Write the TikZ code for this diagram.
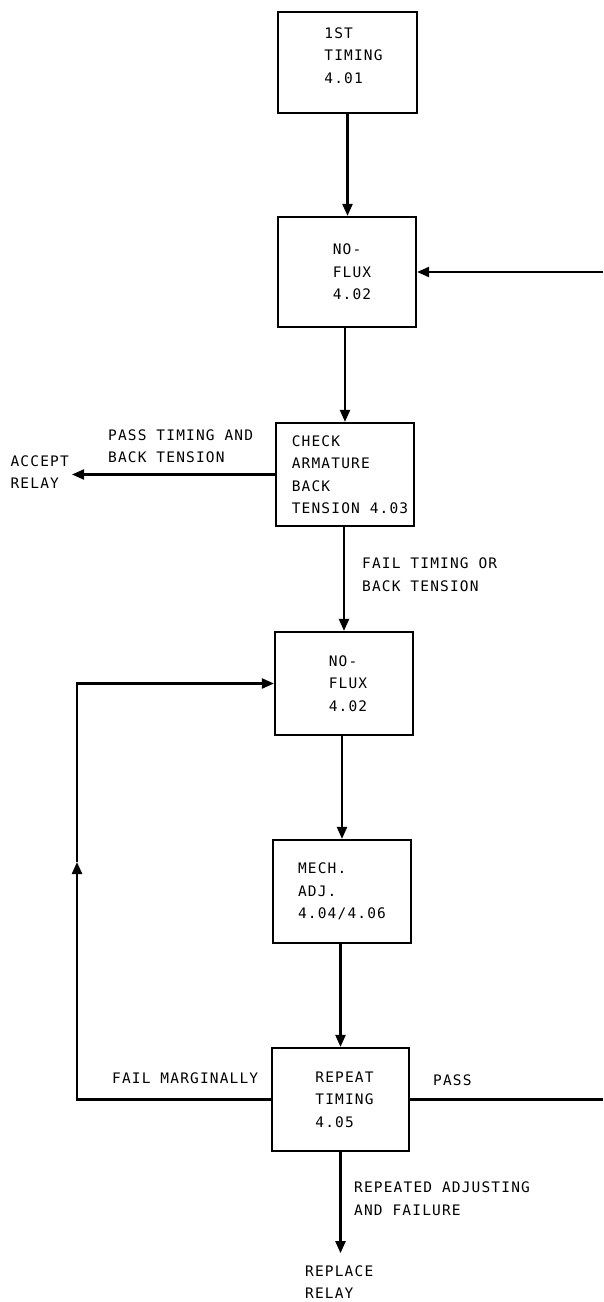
\documentclass[tikz,border=0pt]{standalone}
\usepackage{fontspec}
\newfontfamily\plotfont[LetterSpace=8]{DejaVu Sans Mono}
\usetikzlibrary{arrows.meta}
\newcommand\indt[1]{\hspace*{#1pt}}
\begin{document}
\begin{tikzpicture}[x=1pt,y=-1pt,
  box/.style={draw, line width=2.2pt, rectangle, align=left, inner sep=0pt},
  txt/.style={align=left, inner sep=0pt},
  arr/.style={line width=2.2pt, -{Triangle[length=12pt,width=10pt]}},
  ln/.style={line width=2.2pt},
  every node/.style={font=\plotfont\fontsize{14.5pt}{22.5pt}\selectfont}
]
\useasboundingbox (0,0) rectangle (603,1302);

% boxes
\node[box, minimum width=139pt, minimum height=101pt] (b1) at (347.5,62.5) {\indt{12}1ST\\\indt{12}TIMING\\\indt{12}4.01\\[-8pt]};
\node[box, minimum width=138pt, minimum height=110pt] (b2) at (347,272) {\indt{10}NO-\\\indt{10}FLUX\\\indt{10}4.02};
\node[box, minimum width=138pt, minimum height=103pt] (b3) at (345,474.5) {\indt{10}CHECK\\\indt{10}ARMATURE\\\indt{10}BACK\\\indt{10}TENSION 4.03};
\node[box, minimum width=138pt, minimum height=103pt] (b4) at (344,683.5) {\indt{8}NO-\\\indt{8}FLUX\\\indt{8}4.02};
\node[box, minimum width=138pt, minimum height=103pt] (b5) at (342,891.5) {MECH.\\ADJ.\\4.04/4.06};
\node[box, minimum width=137pt, minimum height=103pt] (b6) at (340.5,1099.5) {\indt{8}REPEAT\\\indt{8}TIMING\\\indt{8}4.05};

% terminal texts and labels
\node[txt, anchor=east] (accept) at (69,472) {ACCEPT\\RELAY};
\node[txt, anchor=west] (replace) at (305,1282) {REPLACE\\RELAY};
\node[txt, anchor=west] (lpass1) at (108,446) {PASS TIMING AND\\BACK TENSION};
\node[txt, anchor=west] (lfail1) at (362,574.5) {FAIL TIMING OR\\BACK TENSION};
\node[txt, anchor=west] (lfailm) at (112,1078) {FAIL MARGINALLY};
\node[txt, anchor=west] (lpass2) at (433,1080) {PASS};
\node[txt, anchor=west] (lrep) at (354,1198.5) {REPEATED ADJUSTING\\AND FAILURE};

% free ends
\coordinate (rin) at (603,272);
\coordinate (rout) at (603,1099.5);
\coordinate (lmid) at (77,862);

% connectors
\draw[arr] (b1.south) -- (b1.south |- b2.north);
\draw[arr] (rin) -- (b2.east);
\draw[arr] (b3.north |- b2.south) -- (b3.north);
\draw[arr, shorten >=3pt] (b3.west) -- (b3.west -| accept.east);
\draw[arr] (b4.north |- b3.south) -- (b4.north);
\draw[arr] (b5.north |- b4.south) -- (b5.north);
\draw[arr] (b6.north |- b5.south) -- (b6.north);
\draw[ln] (b6.east) -- (rout);
\draw[arr] (b6.west) -| (lmid);
\draw[arr] (lmid) |- (b4.west);
\draw[arr, shorten >=12pt] (b6.south) -- (b6.south |- replace.north);
\end{tikzpicture}
\end{document}
